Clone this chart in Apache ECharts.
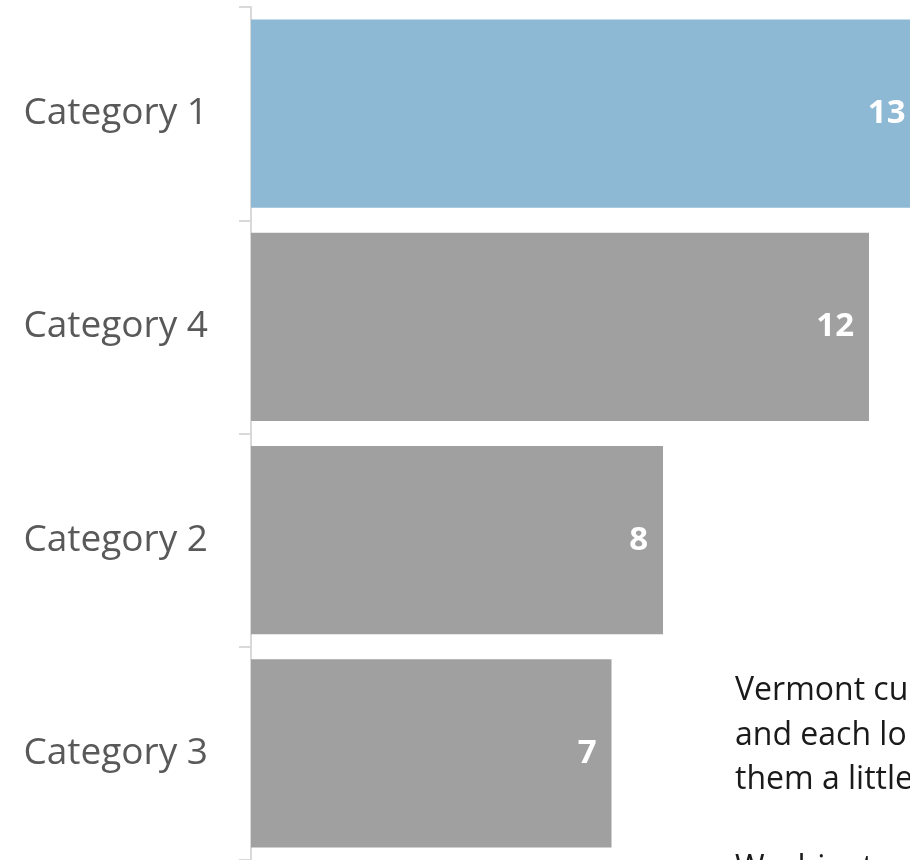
<!DOCTYPE html>
<html lang="en">
<head>
<meta charset="UTF-8">
<title>Bar chart</title>
<style>
  * { margin: 0; padding: 0; }
  html, body { width: 100%; height: 100%; background: #fff; }
  #chart { width: 910px; height: 860px; }
</style>
</head>
<body>
<div id="chart"></div>
<script src="https://cdn.jsdelivr.net/npm/echarts@6/dist/echarts.min.js"></script>
<script>
  var categories = ['Category 1', 'Category 4', 'Category 2', 'Category 3'];
  var values = [13, 12, 8, 7];
  var highlight = 'Category 1';
  var noteLines = ['Vermont cu', 'and each lo', 'them a little', '', 'Washington'];

  var blue = '#8db9d4';
  var gray = '#a0a0a0';

  var chart = echarts.init(document.getElementById('chart'));

  var option = {
    animation: false,
    grid: { left: 251, top: 7, width: 618, height: 856 },
    xAxis: {
      type: 'value',
      min: 0,
      max: 12,
      show: false
    },
    yAxis: {
      type: 'category',
      data: categories,
      inverse: true,
      offset: 3,
      axisLine: { show: true, lineStyle: { color: '#d9d9d9', width: 2 } },
      axisTick: { show: true, length: 12, lineStyle: { color: '#d9d9d9', width: 2 } },
      axisLabel: {
        margin: 40,
        color: '#595959',
        fontSize: 37,
        fontFamily: 'Open Sans',
        padding: [4, 0, 0, 0]
      }
    },
    series: [{
      type: 'bar',
      clip: false,
      barCategoryGap: '11.7%',
      data: values.map(function (v, i) {
        return {
          value: v,
          itemStyle: { color: categories[i] === highlight ? blue : gray }
        };
      }),
      label: {
        show: true,
        position: 'insideRight',
        distance: 15,
        color: '#fff',
        fontWeight: 'bold',
        fontSize: 33,
        fontFamily: 'Open Sans'
      }
    }],
    graphic: [{
      type: 'text',
      left: 735,
      top: 669,
      silent: true,
      style: {
        text: noteLines.join('\n'),
        fill: '#1a1a1a',
        font: '32px "Open Sans"',
        lineHeight: 44.5
      }
    }]
  };

  chart.setOption(option);
</script>
</body>
</html>
